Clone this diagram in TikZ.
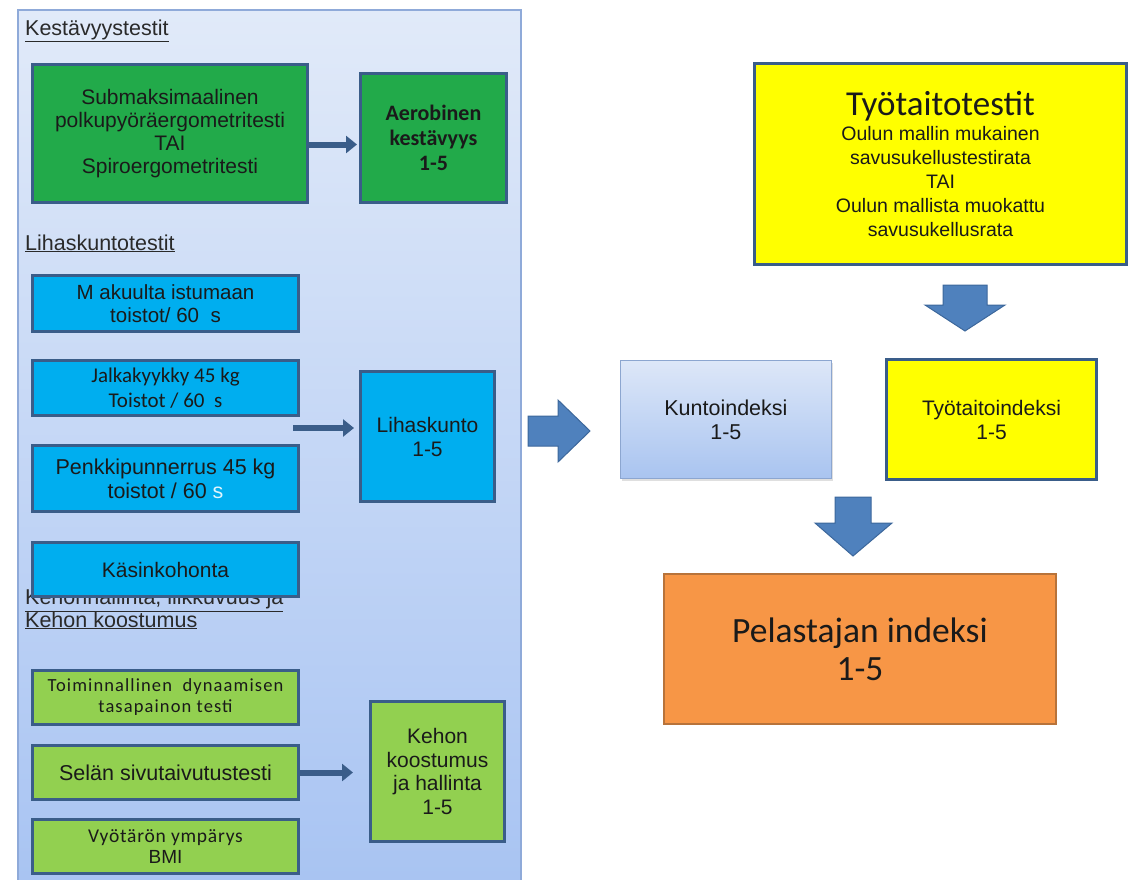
\documentclass[tikz,border=0pt]{standalone}
\usepackage{fontspec}
\setmainfont{Liberation Sans}
\newfontfamily\calib{Carlito}
\usetikzlibrary{arrows.meta,shadows}

\definecolor{panelTop}{HTML}{E1EAF9}
\definecolor{panelBot}{HTML}{A7C3F2}
\definecolor{panelEdge}{HTML}{8FAAD9}
\definecolor{edge}{HTML}{3A5D89}
\definecolor{boxGreen}{HTML}{22AA4A}
\definecolor{boxCyan}{HTML}{00AEEF}
\definecolor{boxLime}{HTML}{92D050}
\definecolor{boxYellow}{HTML}{FFFF00}
\definecolor{boxOrange}{HTML}{F79646}
\definecolor{orangeEdge}{HTML}{B8733A}
\definecolor{idxTop}{HTML}{DDE7F8}
\definecolor{idxBot}{HTML}{A9C4F0}
\definecolor{idxEdge}{HTML}{8CA6D0}
\definecolor{bigArrow}{HTML}{4F81BD}
\definecolor{bigArrowEdge}{HTML}{3C679B}
\definecolor{ink}{HTML}{1A1A1A}
\definecolor{headInk}{HTML}{2A2A2A}

\newcommand{\sz}[2]{\fontsize{#1}{#2}\selectfont}

\begin{document}
\begin{tikzpicture}[x=1pt,y=-1pt,
  box/.style={draw=edge, line width=3pt, anchor=north west, inner sep=2pt,
    align=center, text=ink},
  heading/.style={anchor=base west, inner sep=0pt, text=headInk, align=left},
  conn/.style={draw=edge, line width=6pt,
    -{Triangle[width=17pt,length=11pt]}},
  blockarrow/.style={fill=bigArrow, draw=bigArrowEdge, line width=1pt,
    line join=miter}
]
\useasboundingbox (0,0) rectangle (1138,879);
\clip (0,0) rectangle (1138,879);

% left panel with the fitness tests
\draw[panelEdge, line width=1.2pt, top color=panelTop, bottom color=panelBot]
  (18,10) rectangle (521,905);

% endurance
\node[heading, font=\sz{21.5}{22}] (hEnd) at (25,35) {\underline{Kestävyystestit}};
\node[box, fill=boxGreen, minimum width=275, minimum height=138,
  font=\sz{21}{23}] (sub) at (31,63)
  {Submaksimaalinen\\polkupyöräergometritesti\\TAI\\Spiroergometritesti};
\node[box, fill=boxGreen, minimum width=146, minimum height=129,
  font=\calib\bfseries\sz{22}{25}] (aero) at (359,72)
  {Aerobinen\\kestävyys\\1-5};
\draw[conn] ([yshift=-11pt]sub.east) -- ([yshift=-11pt,xshift=-2pt]sub.east -| aero.west);

% muscle fitness
\node[heading, font=\sz{21.5}{22}] (hMus) at (25,250) {\underline{Lihaskuntotestit}};
\node[box, fill=boxCyan, minimum width=266, minimum height=56,
  font=\sz{20.5}{23}] (mak) at (31,274) {M akuulta istumaan\\toistot/ 60 \ s};
\node[box, fill=boxCyan, minimum width=266, minimum height=55,
  font=\calib\sz{21}{25}] (jalk) at (31,359) {Jalkakyykky 45 kg\\Toistot / 60 \ s};
\node[box, fill=boxCyan, minimum width=266, minimum height=66,
  font=\sz{21.5}{24}] (penk) at (31,444)
  {Penkkipunnerrus 45 kg\\toistot / 60 {\color{white!88!cyan}s}};
\node[box, fill=boxCyan, minimum width=134, minimum height=130,
  font=\sz{21}{24}] (lih) at (359,370) {Lihaskunto\\1-5};
\coordinate (musStart) at (293,428);
\draw[conn] (musStart) -- ([xshift=-5pt]musStart -| lih.west);

% body control and composition
\node[heading, font=\sz{21.5}{22}] (hBody) at (25,627)
  {\underline{Kehonhallinta, liikkuvuus ja}\\[-1pt]\underline{Kehon koostumus}};
\node[box, fill=boxCyan, minimum width=266, minimum height=54,
  font=\sz{21}{23}] (kas) at (31,541) {Käsinkohonta};
\node[box, fill=boxLime, minimum width=266, minimum height=54,
  font=\calib\addfontfeature{LetterSpace=6}\sz{18.5}{21}] (toim) at (31,669)
  {Toiminnallinen \ dynaamisen\\tasapainon testi};
\node[box, fill=boxLime, minimum width=266, minimum height=54,
  font=\sz{21.5}{23}] (sel) at (31,744) {Selän sivutaivutustesti};
\node[box, fill=boxLime, minimum width=266, minimum height=54,
  font=\calib\addfontfeature{LetterSpace=4}\sz{19.5}{21}] (vyo) at (31,818)
  {Vyötärön ympärys\\{\normalfont\sz{19}{21}BMI}};
\node[box, fill=boxLime, minimum width=134, minimum height=140,
  font=\sz{21}{23.5}] (keh) at (369,700) {Kehon\\koostumus\\ja hallinta\\1-5};
\draw[conn] (sel.east) -- ([xshift=-16pt]sel.east -| keh.west);

% indices
\draw[blockarrow] (528,416) -- (558,416) -- (558,400) -- (590,431)
  -- (558,462) -- (558,446) -- (528,446) -- cycle;
\node[draw=idxEdge, line width=0.8pt, top color=idxTop, bottom color=idxBot,
  anchor=north west, minimum width=211, minimum height=118, align=center,
  text=ink, font=\sz{21.5}{24},
  drop shadow={shadow xshift=2pt, shadow yshift=-3pt, opacity=0.25}]
  (kunto) at (620,360) {Kuntoindeksi\\1-5};

\node[box, fill=boxYellow, minimum width=372, minimum height=201,
  font=\sz{19.5}{24}] (tyo) at (753,62)
  {{\calib\sz{35}{32}Työtaitotestit}\\[1pt]Oulun mallin mukainen\\savusukellustestirata\\TAI\\Oulun mallista muokattu\\savusukellusrata};
\draw[blockarrow] (943,285) -- (987,285) -- (987,305) -- (1005,305)
  -- (965,331) -- (925,305) -- (943,305) -- cycle;
\node[box, fill=boxYellow, minimum width=210, minimum height=120,
  font=\sz{21}{24}] (tyoi) at (885,358) {Työtaitoindeksi\\1-5};

\draw[blockarrow] (835,497) -- (871,497) -- (871,523) -- (892,523)
  -- (853,556) -- (815,523) -- (835,523) -- cycle;
\node[draw=orangeEdge, line width=2pt, fill=boxOrange, anchor=north west,
  minimum width=392, minimum height=150, align=center, text=ink,
  font=\calib\sz{35.5}{38}] (pel) at (663,573) {Pelastajan indeksi\\1-5};
\end{tikzpicture}
\end{document}
